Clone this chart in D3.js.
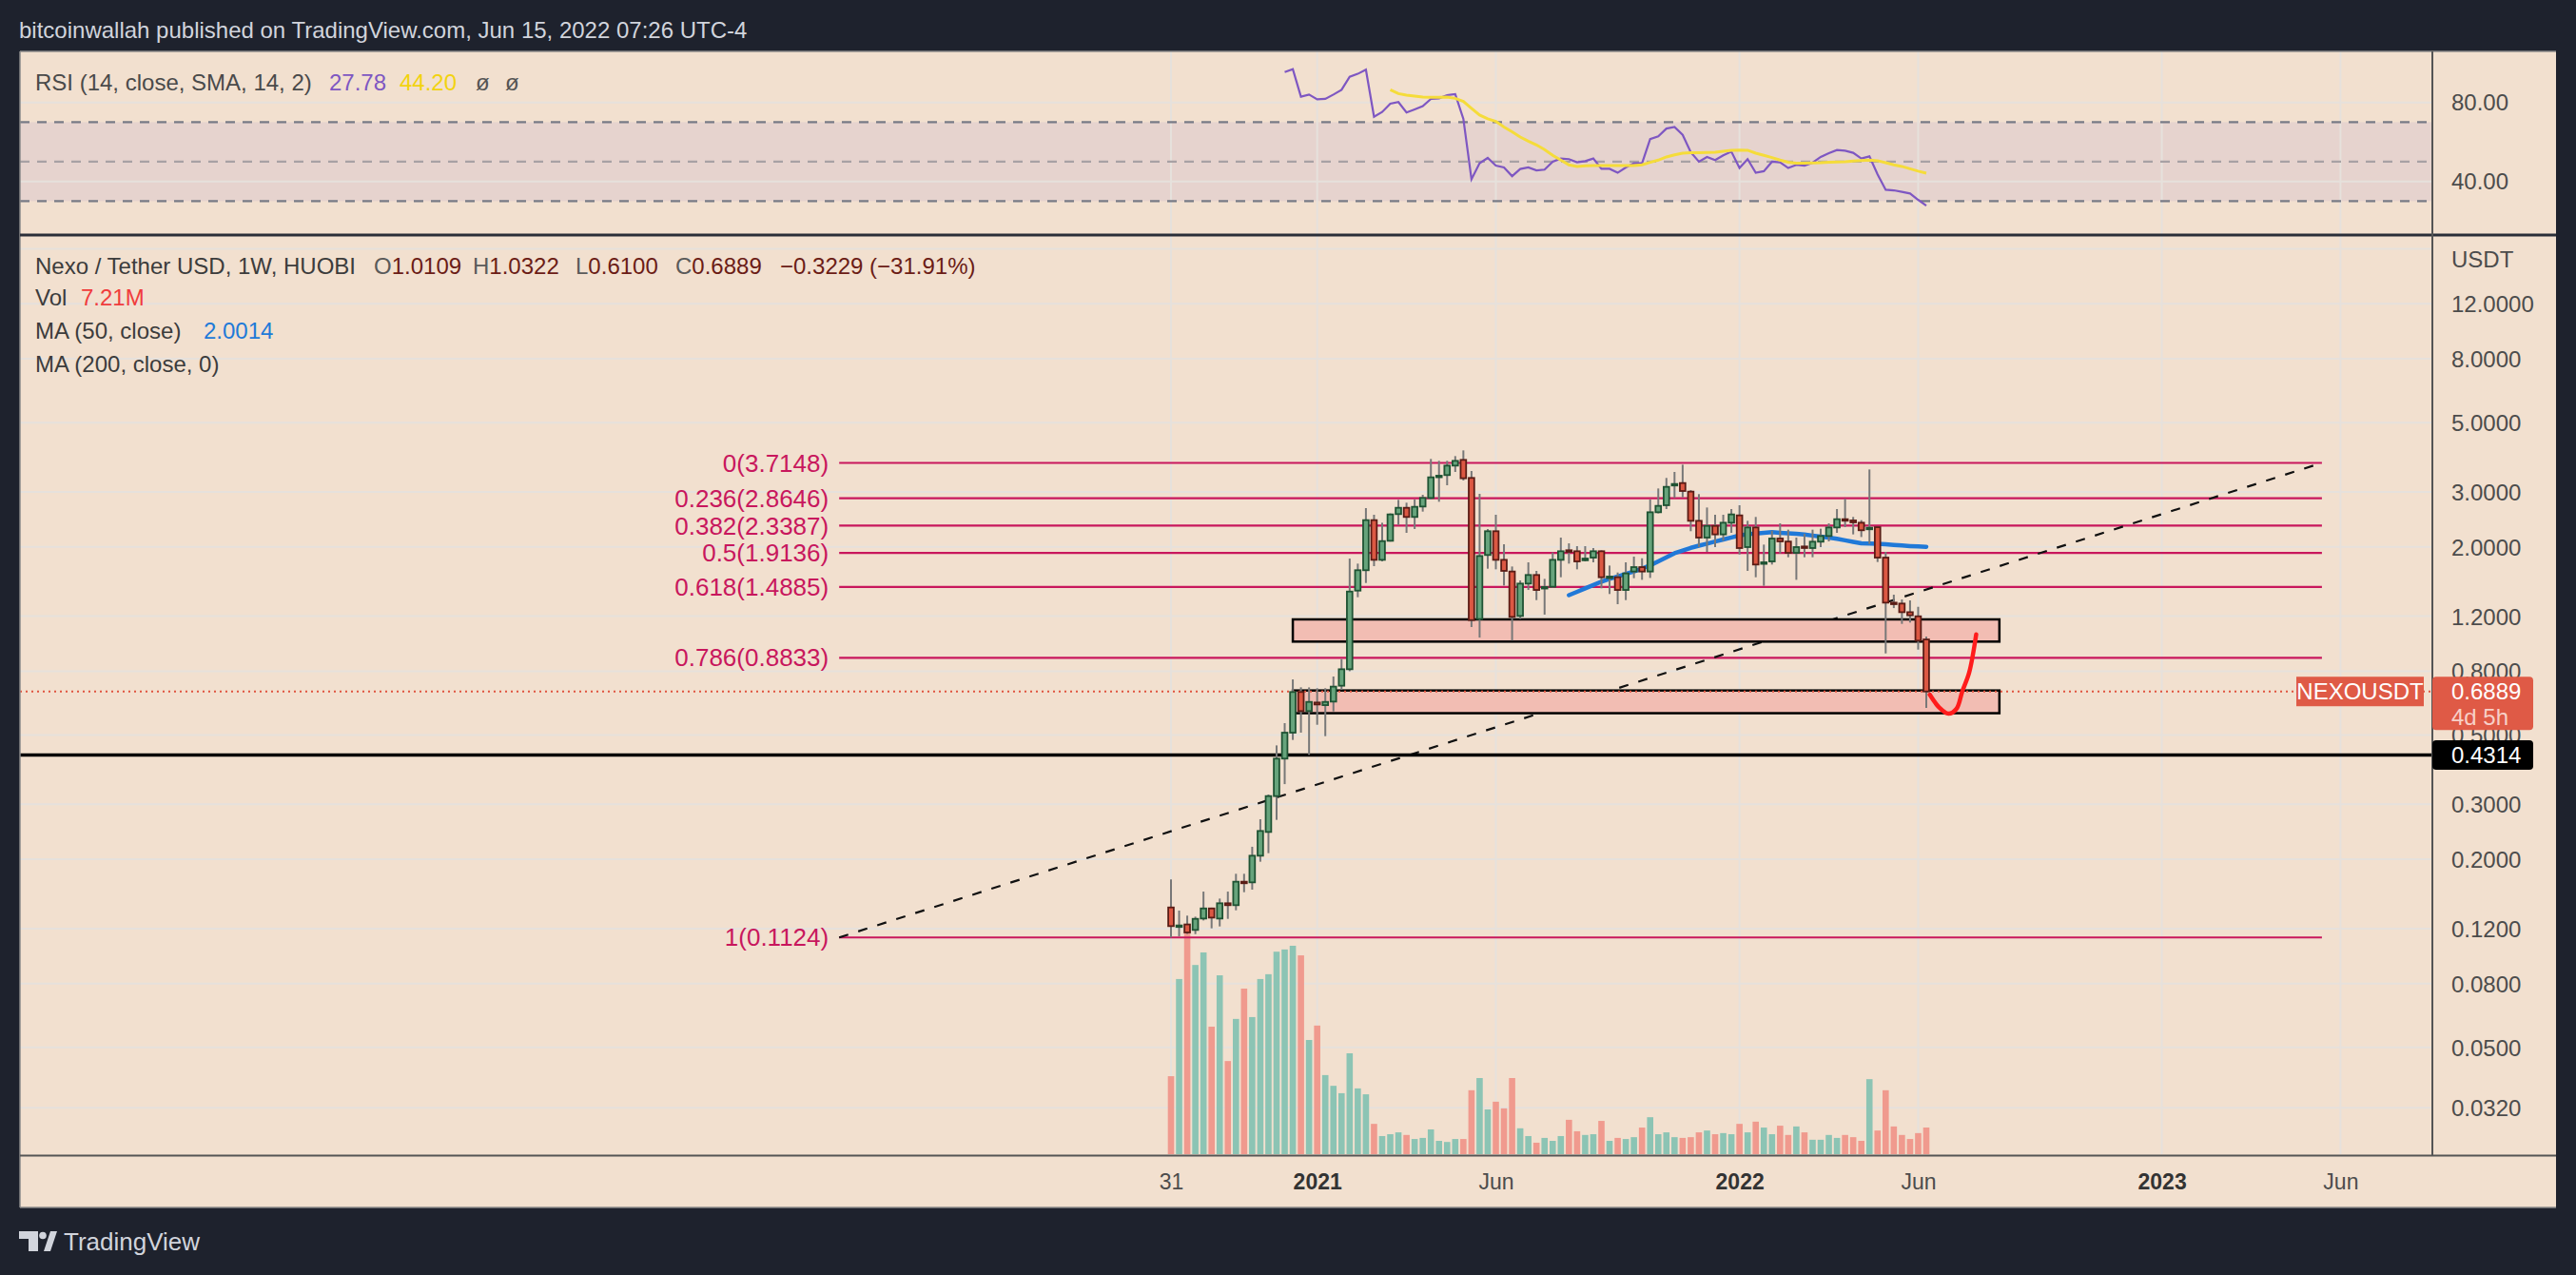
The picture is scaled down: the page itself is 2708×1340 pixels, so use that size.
<!DOCTYPE html>
<html><head><meta charset="utf-8">
<script src="https://cdn.jsdelivr.net/npm/d3@7"></script>
<style>html,body{margin:0;padding:0;background:#1e222d;overflow:hidden}</style>
</head><body>
<svg id="c" width="2708" height="1340"></svg>
<script>
// ---------------- DATA ----------------
const firstWeek = new Date(2020, 7, 31);   // first weekly bar (Mon)
const lastWeek  = new Date(2022, 5, 13);   // last weekly bar (Mon)

const opens  = [0.1402,0.1222,0.1237,0.1188,0.1292,0.1392,0.1292,0.1446,0.1426,0.1695,
  0.1687,0.2053,0.2446,0.3186,0.42,0.5085,0.6862,0.5963,0.635,0.623,
  0.6394,0.7188,0.8117,1.449,1.684,2.436,1.818,2.092,2.547,2.668,
  2.494,2.693,2.869,3.364,3.396,3.641,3.798,3.325,1.175,1.884,
  2.245,1.818,1.668,1.202,1.526,1.626,1.474,1.491,1.818,1.951,
  1.937,1.812,1.848,1.937,1.591,1.599,1.456,1.668,1.723,1.668,
  2.582,2.719,3.150,3.202,3.006,2.424,2.142,2.335,2.193,2.39,
  2.523,1.997,2.308,1.768,1.797,2.127,2.08,1.914,2.006,1.983,
  2.078,2.167,2.308,2.453,2.43,2.39,2.281,2.313,1.848,1.326,
  1.317,1.236,1.199,1.0109];
const highs  = [0.1723,0.137,0.132,0.131,0.1576,0.1400,0.1497,0.1576,0.1797,0.1797,
  0.2193,0.2687,0.3224,0.463,0.5455,0.753,0.7105,0.71,0.7057,0.7057,
  0.7694,0.8748,1.835,1.768,2.662,2.535,2.390,2.56,2.829,2.770,
  2.836,2.937,3.824,3.771,3.771,3.906,4.074,3.499,2.957,2.281,
  2.535,2.039,1.731,1.562,1.785,1.676,1.580,1.919,2.142,2.053,
  2.011,2.011,1.983,1.95,1.743,1.656,1.785,1.862,1.839,2.836,
  3.077,3.325,3.475,3.667,3.04,2.951,2.674,2.535,2.535,2.644,
  2.719,2.424,2.494,2.034,2.255,2.379,2.271,2.142,2.203,2.271,
  2.287,2.379,2.644,2.849,2.494,2.436,3.540,2.32,1.928,1.406,
  1.358,1.348,1.286,1.0322];
const lows   = [0.1124,0.1134,0.1153,0.1152,0.1274,0.1202,0.1219,0.1289,0.1373,0.1569,
  0.1599,0.1964,0.2092,0.2674,0.348,0.482,0.5085,0.4314,0.539,0.4956,
  0.5949,0.6973,0.80,1.38,1.533,1.735,1.797,2.08,2.351,2.218,
  2.281,2.594,2.836,2.789,3.150,3.475,3.262,1.108,1.025,1.703,
  1.695,1.504,1.002,1.175,1.456,1.351,1.214,1.48,1.599,1.768,
  1.695,1.797,1.785,1.474,1.413,1.311,1.351,1.588,1.569,1.591,
  2.56,2.644,2.869,2.883,2.245,1.997,1.928,1.997,2.092,2.218,
  1.892,1.676,1.599,1.501,1.756,1.905,1.853,1.569,1.853,1.853,
  1.997,2.083,2.218,2.313,2.193,2.151,2.044,1.789,0.912,1.274,
  1.134,1.145,0.938,0.61];
const closes = [0.1222,0.1228,0.1166,0.1289,0.1392,0.1301,0.1446,0.1426,0.1695,0.1687,
  0.2053,0.2464,0.3186,0.42,0.5085,0.6862,0.5963,0.6378,0.626,0.6378,
  0.714,0.8117,1.439,1.684,2.436,1.818,2.087,2.541,2.668,2.494,
  2.687,2.869,3.340,3.380,3.641,3.771,3.317,1.166,1.870,2.245,
  1.818,1.676,1.194,1.526,1.626,1.456,1.488,1.818,1.937,1.928,
  1.797,1.835,1.937,1.599,1.607,1.456,1.645,1.723,1.668,2.582,
  2.706,3.113,3.180,3.020,2.424,2.142,2.335,2.193,2.390,2.541,
  1.983,2.308,1.756,1.785,2.127,2.083,1.914,1.997,1.988,2.078,
  2.167,2.308,2.453,2.430,2.397,2.261,2.303,1.848,1.326,1.317,
  1.236,1.208,1.002,0.6889];
// volume, millions
const volumes = [21.1,47.4,60.6,51.2,54.6,34.5,48.4,25.2,36.6,44.8,
  37.1,47.4,48.7,54.8,55.4,56.4,53.8,30.9,34.8,21.4,
  18.5,16.5,27.3,17.8,16.2,8.2,4.9,5.4,5.9,5.2,
  4.1,4.4,6.7,3.6,3.3,4.1,4.1,17.3,20.6,12.1,
  14.2,12.4,20.6,7.0,4.9,3.1,4.4,3.6,4.9,9.3,
  6.2,5.2,5.4,9.0,3.6,4.4,4.1,4.6,7.2,10.0,
  5.4,5.9,4.6,4.4,4.6,5.9,6.4,5.4,5.7,5.4,
  8.2,5.9,8.8,7.2,5.4,7.7,5.2,7.5,5.9,3.9,
  3.9,5.2,4.4,5.2,4.6,3.6,20.3,6.4,17.3,7.5,
  5.2,4.1,5.7,7.21];
// MA(50) from bar index 49
const ma50Start = 49;
const ma50 = [1.401,1.436,1.473,1.509,1.548,1.580,1.609,1.639,1.668,1.705,
  1.746,1.797,1.852,1.908,1.946,1.986,2.018,2.049,2.080,2.112,
  2.144,2.175,2.197,2.208,2.218,2.229,2.220,2.211,2.201,2.192,
  2.174,2.157,2.141,2.122,2.099,2.075,2.053,2.049,2.046,2.040,
  2.029,2.020,2.012,2.006,2.0014];
// RSI(14) from bar index 14
const rsiStart = 14;
const rsi = [95.4,96.9,82.9,84.0,81.6,81.8,84.0,86.4,93.0,94.5,
  96.6,72.8,75.2,79.4,80.2,74.9,76.5,78.1,81.8,82.1,
  83.7,84.2,71.7,41.1,49.2,51.9,48.0,47.1,42.7,46.3,
  47.1,45.6,46.0,50.0,51.6,51.3,49.7,50.3,51.6,46.4,
  46.4,44.4,47.1,49.2,49.2,61.5,62.8,66.8,67.6,63.6,
  54.8,50.0,52.4,50.8,53.2,55.1,46.8,51.3,44.4,45.2,
  50.0,49.7,46.8,48.4,48.0,49.5,52.4,54.3,55.9,55.6,
  54.5,51.6,52.7,43.6,35.8,35.5,34.7,33.9,30.7,27.78];
// RSI-based SMA(14) from bar index 27
const rsiSmaStart = 27;
const rsiSma = [86.4,84.5,83.7,83.2,82.7,82.6,82.6,82.7,82.1,80.5,
  77.0,73.6,71.7,70.4,67.6,65.2,62.5,60.4,58.5,56.1,
  53.2,50.8,48.4,47.6,47.9,48.0,48.0,48.0,48.0,48.0,
  48.0,48.4,49.7,50.8,52.4,53.5,54.3,54.5,54.5,54.7,
  54.8,55.3,55.8,55.9,55.8,54.3,53.2,52.1,50.8,49.7,
  49.2,49.2,49.4,49.5,49.7,49.9,50.0,50.3,50.6,50.8,
  50.5,49.5,48.4,47.6,46.4,45.2,44.20];
// Fibonacci retracement
const fibRatios = ["0","0.236","0.382","0.5","0.618","0.786","1"];
const fibPrices = [3.7148,2.8646,2.3387,1.9136,1.4885,0.8833,0.1124];
const fibStart = new Date(2019, 10, 19);
const fibEnd   = new Date(2023, 4, 20);
// zones (rectangles)
const zoneStarts = [new Date(2020, 11, 14), new Date(2020, 11, 14)];
const zoneEnds   = [new Date(2022, 7, 15), new Date(2022, 7, 15)];
const zoneTops   = [1.172, 0.694];
const zoneBottoms= [0.995, 0.587];
// horizontal level & last price
const levelPrice = 0.4314;
const lastPrice = 0.6889;
// hand-drawn projection curve
const curveDates  = [new Date(2022,5,16),new Date(2022,5,24),new Date(2022,6,2),new Date(2022,6,9),new Date(2022,6,14),new Date(2022,6,20),new Date(2022,6,26)];
const curvePrices = [0.673,0.613,0.585,0.606,0.689,0.793,1.049];
// axis ticks
const priceTicks = [12,8,5,3,2,1.2,0.8,0.5,0.3,0.2,0.12,0.08,0.05,0.032];
const priceGrid  = [18,12,8,5,3,2,1.2,0.8,0.5,0.3,0.2,0.12,0.08,0.05,0.032];
const rsiTicks = [80,40];
const timeTicks = [new Date(2020,7,31),new Date(2021,0,4),new Date(2021,5,7),new Date(2022,0,3),new Date(2022,5,6),new Date(2023,0,2),new Date(2023,5,5)];
const timeLabels = ["31","2021","Jun","2022","Jun","2023","Jun"];
// legend values
const ohlcLetters = ["O","H","L","C",""];
const ohlcValues  = ["1.0109","1.0322","0.6100","0.6889","\u22120.3229 (\u221231.91%)"];

// ---------------- LAYOUT ----------------
const W=2708,H=1340, L=21, R=2556, AXL=2557, RIGHT=2687;
const TOP=54, RSI_B=246, MAIN_T=248, MAIN_B=1213, TIME_B=1269;
const FONT="'Liberation Sans', Arial, Helvetica, sans-serif";
const BG='#f2e0cf', GRID='#e6e1dc';

const dates = d3.timeMonday.range(firstWeek, d3.timeDay.offset(lastWeek,1));
const x = d3.scaleTime().domain([firstWeek, lastWeek]).range([1231, 2025]);
const y = d3.scaleLog().domain([1, 10]).range([673.6, 345.3]);
const yv = d3.scaleLinear().domain([0, 60]).range([MAIN_B, 980]);
const yr = d3.scaleLinear().domain([40, 80]).range([190.7, 107.7]);

const svg = d3.select('#c');
svg.append('rect').attr('width',W).attr('height',H).attr('fill','#1e222d');
svg.append('rect').attr('x',L).attr('y',TOP).attr('width',RIGHT-L).attr('height',TIME_B-TOP).attr('fill',BG);

function txt(g,xx,yy,s,fill,size,weight,anchor){
  return g.append('text').attr('x',xx).attr('y',yy).attr('dy','0.35em')
    .attr('font-family',FONT).attr('font-size',size||24).attr('font-weight',weight||400)
    .attr('text-anchor',anchor||'start').attr('fill',fill).text(s);
}

// ---- RSI pane ----
const rsiG = svg.append('g');
rsiG.append('rect').attr('x',L).attr('width',R-L).attr('y',yr(70)).attr('height',yr(30)-yr(70)).attr('fill','#e6d3ce');
rsiG.selectAll('line.hg').data(rsiTicks).join('line').attr('x1',L).attr('x2',R)
  .attr('y1',d=>yr(d)).attr('y2',d=>yr(d)).attr('stroke',GRID).attr('stroke-width',2);
rsiG.selectAll('line.vg').data(timeTicks).join('line').attr('class','vg').attr('x1',d=>x(d)).attr('x2',d=>x(d))
  .attr('y1',TOP).attr('y2',RSI_B).attr('stroke',GRID).attr('stroke-width',2);
[[70,'#787b86'],[50,'#a8a1a4'],[30,'#787b86']].forEach(([v,c])=>{
  rsiG.append('line').attr('x1',L).attr('x2',R).attr('y1',yr(v)).attr('y2',yr(v))
    .attr('stroke',c).attr('stroke-width',2.2).attr('stroke-dasharray','10,8');
});
rsiG.append('path').datum(rsi).attr('fill','none').attr('stroke','#7e57c2').attr('stroke-width',2.2)
  .attr('d',d3.line().x((d,i)=>x(dates[i+rsiStart])).y(d=>yr(d)));
rsiG.append('path').datum(rsiSma).attr('fill','none').attr('stroke','#f5dc3a').attr('stroke-width',3)
  .attr('d',d3.line().x((d,i)=>x(dates[i+rsiSmaStart])).y(d=>yr(d)));
rsiTicks.forEach(t=>txt(svg,2577,yr(t),d3.format('.2f')(t),'#4c4c4c',24));

// ---- main pane grid ----
const mainG = svg.append('g');
mainG.selectAll('line.hg').data(priceGrid).join('line').attr('class','hg').attr('x1',L).attr('x2',R)
  .attr('y1',d=>y(d)).attr('y2',d=>y(d)).attr('stroke',GRID).attr('stroke-width',2);
mainG.selectAll('line.vg').data(timeTicks).join('line').attr('class','vg').attr('x1',d=>x(d)).attr('x2',d=>x(d))
  .attr('y1',MAIN_T).attr('y2',MAIN_B).attr('stroke',GRID).attr('stroke-width',2);

// volume
const upCol = i => closes[i] >= opens[i];
mainG.selectAll('rect.vol').data(volumes).join('rect').attr('class','vol')
  .attr('x',(d,i)=>x(dates[i])-3.3).attr('width',6.6)
  .attr('y',d=>yv(d)).attr('height',d=>yv(0)-yv(d))
  .attr('fill',(d,i)=>upCol(i)?'#8cc4b4':'#f09a8e');

// fib lines + labels
const fibCol='#c8175d';
fibPrices.forEach((p,i)=>{
  mainG.append('line').attr('x1',x(fibStart)).attr('x2',x(fibEnd)).attr('y1',y(p)).attr('y2',y(p))
    .attr('stroke',fibCol).attr('stroke-width',2.2);
  txt(mainG,x(fibStart)-11,y(p),`${fibRatios[i]}(${p.toFixed(4)})`,fibCol,26,400,'end');
});
// trend line
mainG.append('line').attr('x1',x(fibStart)).attr('y1',y(fibPrices[6])).attr('x2',x(fibEnd)).attr('y2',y(fibPrices[0]))
  .attr('stroke','#111').attr('stroke-width',2.2).attr('stroke-dasharray','10,11');

// zones
zoneTops.forEach((t,i)=>{
  mainG.append('rect').attr('x',x(zoneStarts[i])).attr('width',x(zoneEnds[i])-x(zoneStarts[i]))
    .attr('y',y(t)).attr('height',y(zoneBottoms[i])-y(t))
    .attr('fill','#f2bdb3').attr('stroke','#000').attr('stroke-width',2.5);
});

// level line & last price line
mainG.append('line').attr('x1',L).attr('x2',R).attr('y1',y(levelPrice)).attr('y2',y(levelPrice))
  .attr('stroke','#000').attr('stroke-width',3.4);
mainG.append('line').attr('x1',L).attr('x2',R).attr('y1',y(lastPrice)).attr('y2',y(lastPrice))
  .attr('stroke','#e0533f').attr('stroke-width',2).attr('stroke-dasharray','2,4');

// MA50
mainG.append('path').datum(ma50).attr('fill','none').attr('stroke','#2079d8').attr('stroke-width',4.5)
  .attr('stroke-linecap','round').attr('stroke-linejoin','round')
  .attr('d',d3.line().x((d,i)=>x(dates[i+ma50Start])).y(d=>y(d)));

// candles
const cg = mainG.selectAll('g.c').data(d3.range(opens.length)).join('g').attr('class','c');
cg.append('line').attr('x1',i=>x(dates[i])).attr('x2',i=>x(dates[i]))
  .attr('y1',i=>y(highs[i])).attr('y2',i=>y(lows[i])).attr('stroke','#787878').attr('stroke-width',2);
cg.append('rect').attr('x',i=>x(dates[i])-2.9).attr('width',5.8)
  .attr('y',i=>y(Math.max(opens[i],closes[i])))
  .attr('height',i=>Math.max(1.6, y(Math.min(opens[i],closes[i]))-y(Math.max(opens[i],closes[i]))))
  .attr('fill',i=>upCol(i)?'#67a47c':'#dc5843')
  .attr('stroke',i=>upCol(i)?'#1f5333':'#5a1c15').attr('stroke-width',1.8);

// hand drawn red curve
mainG.append('path').datum(curvePrices).attr('fill','none').attr('stroke','#ff1c1c').attr('stroke-width',4.5)
  .attr('stroke-linecap','round')
  .attr('d',d3.line().curve(d3.curveCatmullRom).x((d,i)=>x(curveDates[i])).y(d=>y(d)));

// ---- frame lines ----
svg.append('line').attr('x1',L).attr('x2',RIGHT).attr('y1',TOP).attr('y2',TOP).attr('stroke','#8a8a8a').attr('stroke-width',1.5);
svg.append('line').attr('x1',L).attr('x2',L).attr('y1',TOP).attr('y2',TIME_B).attr('stroke','#8a8a8a').attr('stroke-width',1.5);
svg.append('line').attr('x1',L).attr('x2',RIGHT).attr('y1',TIME_B).attr('y2',TIME_B).attr('stroke','#8a8a8a').attr('stroke-width',1.5);
svg.append('line').attr('x1',L).attr('x2',RIGHT).attr('y1',247).attr('y2',247).attr('stroke','#2a2e39').attr('stroke-width',3);
svg.append('line').attr('x1',L).attr('x2',RIGHT).attr('y1',1214.5).attr('y2',1214.5).attr('stroke','#555').attr('stroke-width',2.2);
svg.append('line').attr('x1',AXL).attr('x2',AXL).attr('y1',TOP).attr('y2',1215).attr('stroke','#555').attr('stroke-width',2);

// ---- price axis ----
const yAxis = d3.axisRight(y).tickValues(priceTicks).tickFormat(d3.format('.4f')).tickSize(0).tickPadding(0);
const gY = svg.append('g').attr('transform','translate(2577,0)').call(yAxis);
gY.select('.domain').remove();
gY.selectAll('text').attr('x',0).attr('dy','0.35em').attr('text-anchor','start')
  .attr('font-family',FONT).attr('font-size',24).attr('fill','#4c4c4c');
txt(svg,2577,273,'USDT','#4c4c4c',24);

// last price labels
const pc='#df5a46';
const yl = y(lastPrice);
svg.append('rect').attr('x',2414).attr('y',yl-15.5).attr('width',134).attr('height',31).attr('fill',pc);
txt(svg,2481,yl,'NEXOUSDT','#fff',24,400,'middle');
svg.append('rect').attr('x',AXL).attr('y',yl-15.5).attr('width',106).attr('height',56).attr('rx',4).attr('fill',pc);
txt(svg,2577,yl,'0.6889','#fff',24);
txt(svg,2577,yl+27,'4d 5h','#f7d0c8',24);
const ylv = y(levelPrice);
svg.append('rect').attr('x',AXL).attr('y',ylv-15.5).attr('width',106).attr('height',31).attr('rx',4).attr('fill','#000');
txt(svg,2577,ylv,'0.4314','#fff',24);

// ---- time axis ----
const xAxis = d3.axisBottom(x).tickValues(timeTicks).tickFormat((d,i)=>timeLabels[i]).tickSize(0).tickPadding(0);
const gX = svg.append('g').attr('transform','translate(0,1242)').call(xAxis);
gX.select('.domain').remove();
gX.selectAll('text').attr('y',0).attr('dy','0.35em').attr('font-family',FONT).attr('font-size',23)
  .attr('fill',(d,i)=>i%2===1?'#333':'#4c4c4c').attr('font-weight',(d,i)=>i%2===1?700:400);

// ---- legends ----
txt(svg,37,87,'RSI (14, close, SMA, 14, 2)','#4a4a4a',24);
txt(svg,346,87,'27.78','#7e57c2',24);
txt(svg,420,87,'44.20','#f2d30f',24);
txt(svg,500,87,'ø','#555',24);
txt(svg,531,87,'ø','#555',24);

txt(svg,37,280,'Nexo / Tether USD, 1W, HUOBI','#3c3c3c',24);
const ohlcX = [393,497,605,710,820];
ohlcValues.forEach((v,i)=>{
  const t = txt(svg,ohlcX[i],280,'', '#5a5a5a',24);
  t.append('tspan').attr('fill','#5a5a5a').text(ohlcLetters[i]);
  t.append('tspan').attr('fill','#6b1c16').text(v);
});
txt(svg,37,313,'Vol','#3c3c3c',24);
txt(svg,85,313,'7.21M','#f03c3c',24);
txt(svg,37,348,'MA (50, close)','#3c3c3c',24);
txt(svg,214,348,'2.0014','#1e7ad8',24);
txt(svg,37,383,'MA (200, close, 0)','#3c3c3c',24);

// ---- header & footer ----
txt(svg,20,32,'bitcoinwallah published on TradingView.com, Jun 15, 2022 07:26 UTC-4','#d1d4dc',24);
const logo = svg.append('g').attr('fill','#d1d4dc');
logo.append('path').attr('d','M20,1294 H40 V1315 H30 V1302 H20 Z');
logo.append('circle').attr('cx',45).attr('cy',1298.5).attr('r',3.8);
logo.append('path').attr('d','M46,1315 L53,1294 H60 L53,1315 Z');
txt(svg,67,1305,'TradingView','#d1d4dc',26);
</script>
</body></html>
